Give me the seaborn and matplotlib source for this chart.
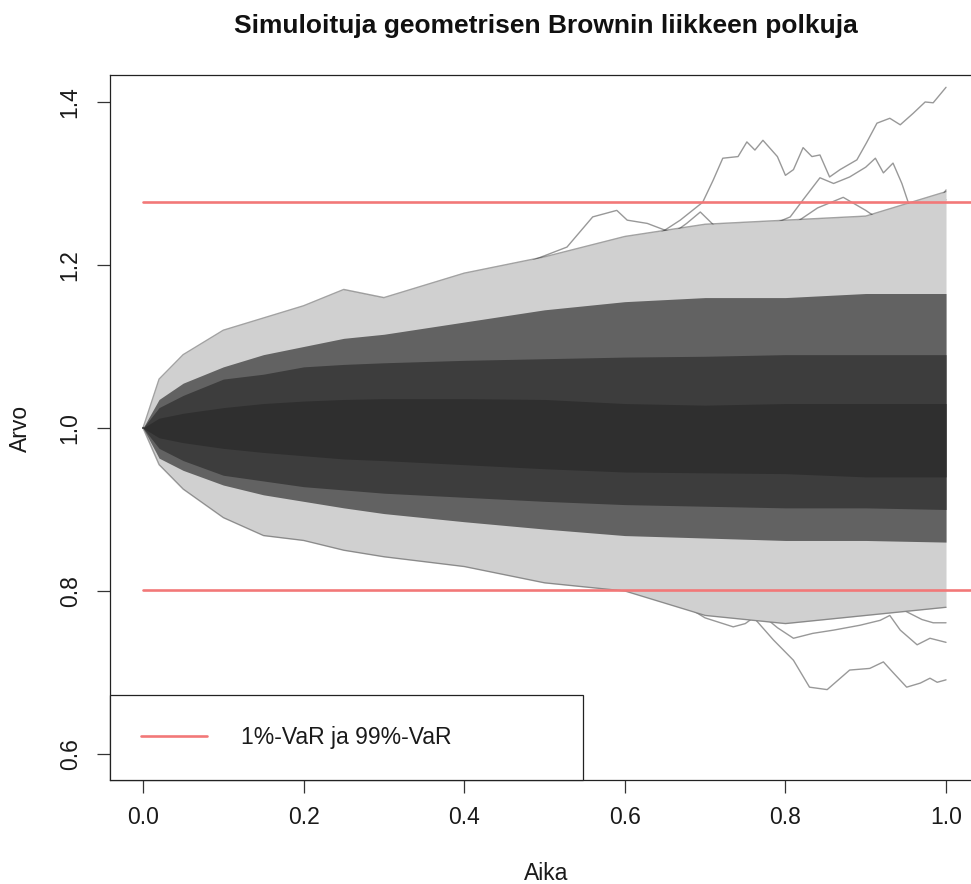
import numpy as np
import pandas as pd
import matplotlib
matplotlib.use("Agg")
import matplotlib.pyplot as plt
from matplotlib.lines import Line2D
import seaborn as sns

# ---------------- data ----------------
title = "Simuloituja geometrisen Brownin liikkeen polkuja"
x_label = "Aika"
y_label = "Arvo"
legend_label = "1%-VaR ja 99%-VaR"
x_ticks = [0.0, 0.2, 0.4, 0.6, 0.8, 1.0]
y_ticks = [0.6, 0.8, 1.0, 1.2, 1.4]

var_low = 0.801
var_high = 1.277
var_span = [0.0, 1.06]

# envelope bands of the simulated path bundle (outer -> inner)
band_t =    [0.0, 0.02, 0.05, 0.10, 0.15, 0.20, 0.25, 0.30, 0.40, 0.50, 0.60, 0.70, 0.80, 0.90, 1.00]
band_max =  [1.0, 1.060, 1.090, 1.120, 1.135, 1.150, 1.170, 1.160, 1.190, 1.210, 1.235, 1.250, 1.255, 1.260, 1.290]
band_hi2 =  [1.0, 1.035, 1.055, 1.075, 1.090, 1.100, 1.110, 1.115, 1.130, 1.145, 1.155, 1.160, 1.160, 1.165, 1.165]
band_hi3 =  [1.0, 1.025, 1.040, 1.060, 1.066, 1.075, 1.078, 1.080, 1.083, 1.085, 1.087, 1.088, 1.090, 1.090, 1.090]
band_hi4 =  [1.0, 1.012, 1.018, 1.025, 1.030, 1.033, 1.035, 1.036, 1.036, 1.035, 1.030, 1.028, 1.030, 1.030, 1.030]
band_lo4 =  [1.0, 0.988, 0.982, 0.975, 0.970, 0.966, 0.962, 0.960, 0.955, 0.950, 0.946, 0.945, 0.944, 0.940, 0.940]
band_lo3 =  [1.0, 0.975, 0.960, 0.942, 0.935, 0.928, 0.924, 0.920, 0.915, 0.910, 0.906, 0.904, 0.902, 0.902, 0.900]
band_lo2 =  [1.0, 0.963, 0.948, 0.930, 0.918, 0.910, 0.902, 0.895, 0.885, 0.876, 0.868, 0.865, 0.862, 0.862, 0.860]
band_min =  [1.0, 0.955, 0.925, 0.890, 0.868, 0.862, 0.850, 0.842, 0.830, 0.810, 0.800, 0.770, 0.760, 0.770, 0.780]

# individual outlying paths
path_a_t = [0.0, 0.05, 0.10, 0.15, 0.20, 0.25, 0.30, 0.35, 0.40, 0.45, 0.50, 0.55, 0.61, 0.644, 0.669, 0.697, 0.710, 0.722,
            0.741, 0.752, 0.762, 0.772, 0.790, 0.800, 0.810, 0.822, 0.833, 0.843, 0.855, 0.868, 0.889, 0.901, 0.914,
            0.930, 0.943, 0.959, 0.974, 0.984, 1.0]
path_a_v = [1.0, 1.03, 1.05, 1.07, 1.06, 1.09, 1.10, 1.12, 1.13, 1.15, 1.17, 1.20, 1.233, 1.239, 1.255, 1.277, 1.304, 1.331,
            1.333, 1.351, 1.341, 1.353, 1.333, 1.310, 1.317, 1.344, 1.333, 1.335, 1.308, 1.317, 1.329, 1.350, 1.374,
            1.380, 1.372, 1.386, 1.400, 1.399, 1.418]

path_b_t = [0.0, 0.10, 0.20, 0.30, 0.40, 0.50, 0.60, 0.65, 0.70, 0.74, 0.777, 0.806, 0.822, 0.843, 0.860, 0.880, 0.900,
            0.912, 0.922, 0.934, 0.945, 0.959, 0.970, 0.985, 1.0]
path_b_v = [1.0, 1.03, 1.05, 1.07, 1.10, 1.12, 1.15, 1.17, 1.19, 1.22, 1.247, 1.259, 1.280, 1.307, 1.300, 1.308, 1.320,
            1.331, 1.313, 1.325, 1.300, 1.259, 1.250, 1.270, 1.292]

path_c_t = [0.0, 0.10, 0.20, 0.30, 0.40, 0.45, 0.486, 0.528, 0.560, 0.590, 0.603, 0.628, 0.660, 0.677, 0.694, 0.720,
            0.750, 0.780, 0.810, 0.840, 0.872, 0.900, 0.930, 0.960, 1.0]
path_c_v = [1.0, 1.02, 1.06, 1.09, 1.14, 1.17, 1.206, 1.222, 1.259, 1.267, 1.255, 1.251, 1.239, 1.251, 1.265, 1.240,
            1.250, 1.230, 1.250, 1.270, 1.283, 1.267, 1.247, 1.270, 1.280]

path_e_t = [0.0, 0.10, 0.20, 0.30, 0.40, 0.50, 0.55, 0.60, 0.65, 0.70, 0.73, 0.76, 0.785, 0.81, 0.83, 0.852, 0.88,
            0.905, 0.922, 0.934, 0.951, 0.968, 0.98, 0.989, 1.0]
path_e_v = [1.0, 0.97, 0.93, 0.91, 0.88, 0.86, 0.84, 0.82, 0.80, 0.79, 0.775, 0.768, 0.740, 0.715, 0.682, 0.679, 0.703,
            0.705, 0.713, 0.700, 0.682, 0.687, 0.693, 0.688, 0.691]

path_f_t = [0.0, 0.10, 0.20, 0.30, 0.40, 0.50, 0.55, 0.60, 0.64, 0.67, 0.70, 0.735, 0.75, 0.768, 0.79, 0.81, 0.834,
            0.86, 0.893, 0.918, 0.93, 0.943, 0.964, 0.98, 1.0]
path_f_v = [1.0, 0.98, 0.95, 0.92, 0.90, 0.87, 0.85, 0.82, 0.80, 0.785, 0.767, 0.756, 0.760, 0.773, 0.755, 0.742, 0.748,
            0.752, 0.758, 0.764, 0.770, 0.752, 0.734, 0.742, 0.737]

path_g_t = [0.0, 0.10, 0.20, 0.30, 0.40, 0.50, 0.60, 0.65, 0.70, 0.75, 0.80, 0.85, 0.88, 0.90, 0.92, 0.95, 0.97, 0.984, 1.0]
path_g_v = [1.0, 0.96, 0.94, 0.90, 0.87, 0.85, 0.83, 0.81, 0.80, 0.79, 0.80, 0.79, 0.805, 0.80, 0.79, 0.775, 0.765, 0.761, 0.761]

# ---------------- figure ----------------
sns.set_theme(style="white")
plt.rcParams["font.family"] = ["Liberation Sans", "DejaVu Sans"]

W, H = 971, 884
fig = plt.figure(figsize=(W / 100, H / 100), dpi=100)
ax = fig.add_axes([110 / W, (H - 780) / H, (W - 110) / W, 705 / H])

path_col = "#333333"

# individual outlying paths (drawn underneath the bundle so only their escaping parts show)
paths_df = pd.concat([
    pd.DataFrame({"t": path_a_t, "v": path_a_v, "path": "a"}),
    pd.DataFrame({"t": path_b_t, "v": path_b_v, "path": "b"}),
    pd.DataFrame({"t": path_c_t, "v": path_c_v, "path": "c"}),
    pd.DataFrame({"t": path_e_t, "v": path_e_v, "path": "e"}),
    pd.DataFrame({"t": path_f_t, "v": path_f_v, "path": "f"}),
    pd.DataFrame({"t": path_g_t, "v": path_g_v, "path": "g"}),
])
sns.lineplot(data=paths_df, x="t", y="v", units="path", estimator=None, color=path_col,
             alpha=0.5, lw=1.0, ax=ax, legend=False, zorder=1)

ax.fill_between(band_t, band_min, band_max, color="#d0d0d0", lw=0, zorder=2)
ax.fill_between(band_t, band_lo2, band_hi2, color="#626262", lw=0, zorder=3)
ax.fill_between(band_t, band_lo3, band_hi3, color="#3d3d3d", lw=0, zorder=4)
ax.fill_between(band_t, band_lo4, band_hi4, color="#2f2f2f", lw=0, zorder=5)

# edge lines of the bundle
edge_df = pd.concat([
    pd.DataFrame({"t": band_t, "v": band_max, "path": "max"}),
    pd.DataFrame({"t": band_t, "v": band_min, "path": "min"}),
])
sns.lineplot(data=edge_df, x="t", y="v", units="path", estimator=None, color=path_col,
             alpha=0.45, lw=1.0, ax=ax, legend=False, zorder=6)

# VaR lines
red = "#f27878"
var_df = pd.DataFrame({"t": var_span * 2, "v": [var_low] * 2 + [var_high] * 2,
                       "lvl": ["low", "low", "high", "high"]})
sns.lineplot(data=var_df, x="t", y="v", units="lvl", estimator=None, color=red,
             lw=1.9, ax=ax, legend=False, zorder=7)

ax.set_xlim(-0.0411, 1.0311)
ax.set_ylim(0.5681, 1.4331)
ax.set_xticks(x_ticks)
ax.set_xticklabels([f"{v:.1f}" for v in x_ticks])
ax.set_yticks(y_ticks)
ax.set_yticklabels([f"{v:.1f}" for v in y_ticks], rotation=90, va="center")
ax.tick_params(axis="both", direction="out", length=9.4, width=0.9, color="#333333",
               labelsize=16.5, labelcolor="#1a1a1a", bottom=True, left=True)
ax.tick_params(axis="x", pad=9)
ax.tick_params(axis="y", pad=11)
ax.set_xlabel("")
ax.set_ylabel("")
for side in ["top", "left", "bottom"]:
    ax.spines[side].set_visible(True)
    ax.spines[side].set_color("#222222")
    ax.spines[side].set_linewidth(0.9)
ax.spines["right"].set_visible(False)
ax.grid(False)

leg = ax.legend(handles=[Line2D([], [], color=red, lw=1.9)], labels=[legend_label],
                loc="lower left", bbox_to_anchor=(0, 0, 473 / 861, 0.11), mode="expand",
                borderaxespad=0, fancybox=False, edgecolor="#222222", framealpha=1,
                borderpad=1.35, handlelength=2.9, handletextpad=1.45, fontsize=16.5)
leg.get_frame().set_linewidth(0.9)
leg.set_zorder(10)
for t in leg.get_texts():
    t.set_color("#1a1a1a")

fig.text(546 / W, 1 - 26 / H, title, ha="center", va="center", fontsize=19,
         fontweight="bold", color="#111111")
fig.text(546 / W, 1 - 873 / H, x_label, ha="center", va="center", fontsize=16.5, color="#1a1a1a")
fig.text(20 / W, 1 - 428 / H, y_label, ha="center", va="center", rotation=90, fontsize=16.5,
         color="#1a1a1a")

fig.savefig("out.png", dpi=100)
